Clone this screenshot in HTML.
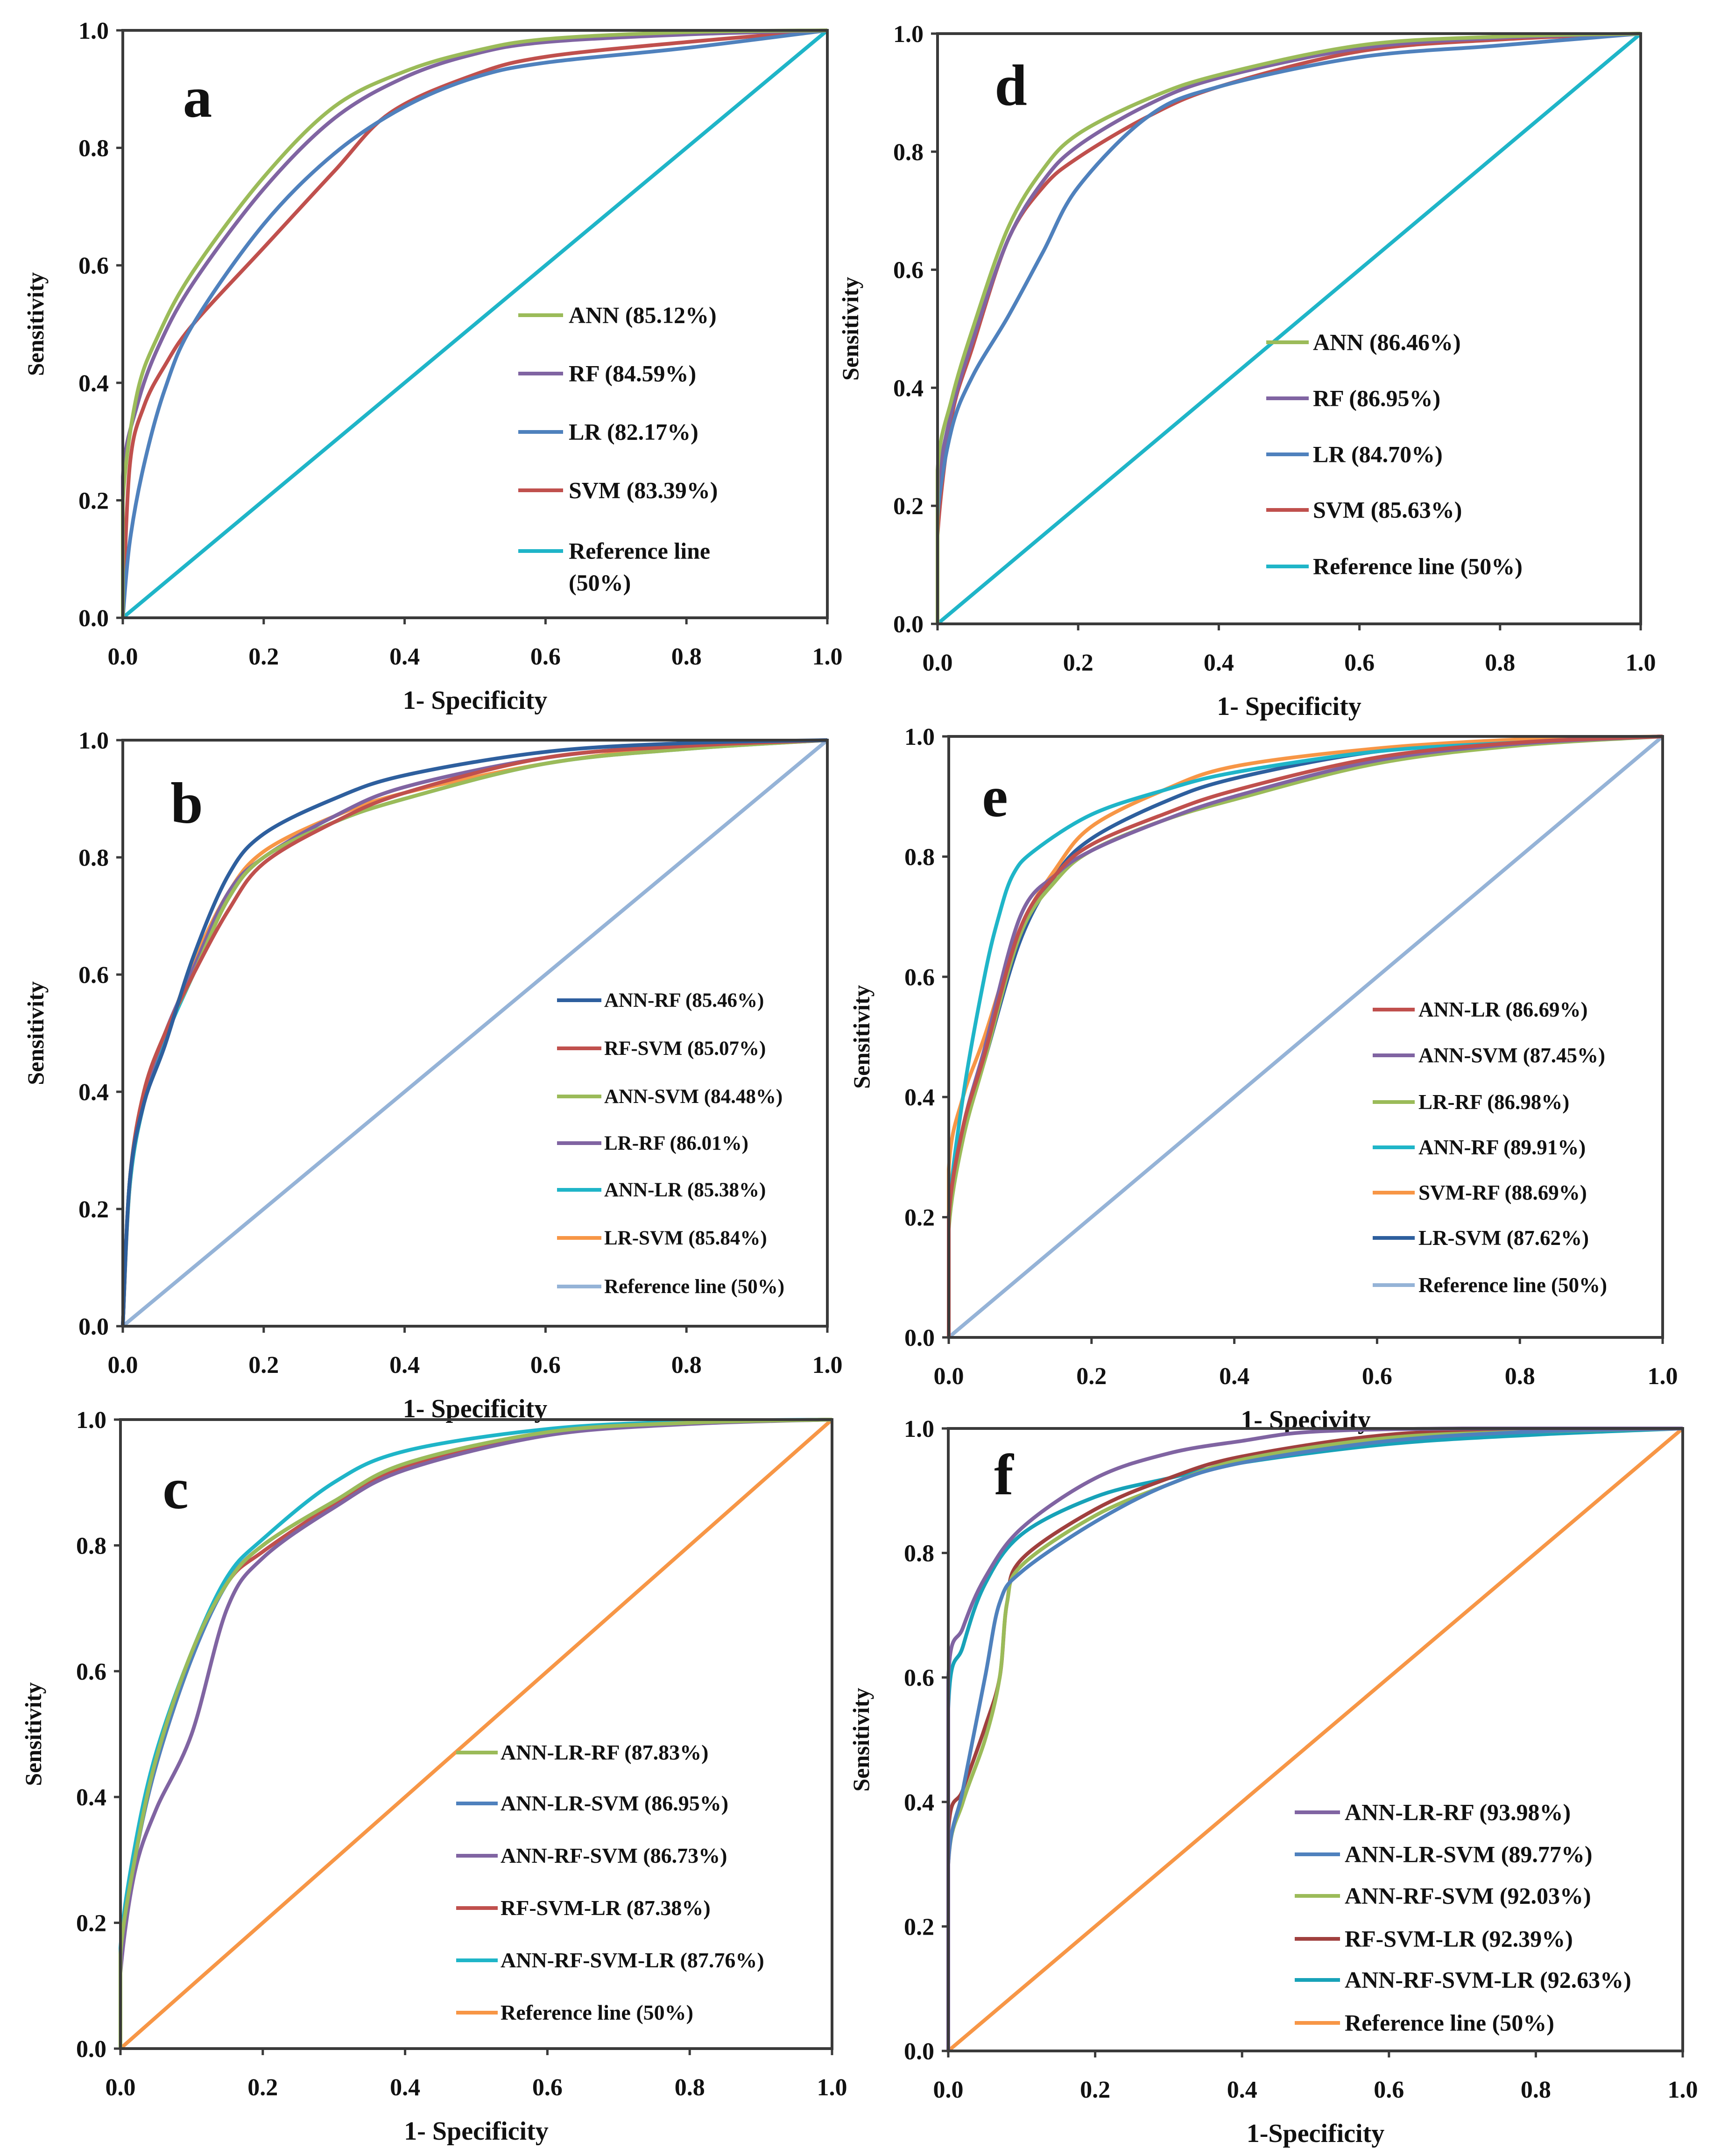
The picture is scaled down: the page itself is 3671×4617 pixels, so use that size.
<!DOCTYPE html>
<html><head><meta charset="utf-8"><style>
html,body{margin:0;padding:0;background:#fff}
svg{display:block}
text{font-family:"Liberation Serif",serif;font-weight:bold;fill:#111}
</style></head><body>
<svg id="fig" width="3671" height="4617" viewBox="0 0 3671 4617" xmlns="http://www.w3.org/2000/svg"></svg>
<script>
// ---- data ----
const ticks=[0,0.2,0.4,0.6,0.8,1.0];
const tickLabels=["0.0","0.2","0.4","0.6","0.8","1.0"];
const C={green:"#9bbb59",purple:"#8064a2",blue:"#4f81bd",red:"#c0504d",cyan:"#1fb5c8",orange:"#f79646",dblue:"#2e5f9e",lblue:"#95b3d7",dred:"#a0403e",teal:"#17a2b8"};
const REF=[[0,0],[1,1]];
// panel a
const aANN=[[0,0],[0,0.2],[0.02,0.38],[0.05,0.48],[0.1,0.59],[0.2,0.75],[0.3,0.87],[0.4,0.93],[0.5,0.965],[0.6,0.985],[0.8,0.997],[1,1]];
const aRF=[[0,0],[0,0.24],[0.02,0.36],[0.05,0.46],[0.1,0.57],[0.2,0.73],[0.3,0.85],[0.4,0.92],[0.5,0.96],[0.6,0.98],[0.8,0.993],[1,1]];
const aLR=[[0,0],[0.01,0.13],[0.03,0.26],[0.06,0.39],[0.1,0.5],[0.2,0.67],[0.3,0.79],[0.4,0.87],[0.5,0.92],[0.6,0.945],[0.8,0.97],[1,1]];
const aSVM=[[0,0],[0.01,0.26],[0.03,0.36],[0.06,0.43],[0.1,0.5],[0.2,0.63],[0.3,0.76],[0.38,0.86],[0.5,0.925],[0.6,0.955],[0.8,0.98],[1,1]];
// panel d
const dANN=[[0,0],[0,0.26],[0.02,0.38],[0.05,0.5],[0.1,0.67],[0.15,0.77],[0.2,0.83],[0.3,0.89],[0.4,0.93],[0.6,0.98],[0.8,0.995],[1,1]];
const dRF=[[0,0],[0,0.22],[0.02,0.36],[0.05,0.48],[0.1,0.65],[0.15,0.75],[0.2,0.81],[0.3,0.88],[0.4,0.925],[0.6,0.975],[0.8,0.993],[1,1]];
const dLR=[[0,0],[0,0.18],[0.02,0.33],[0.05,0.42],[0.1,0.52],[0.15,0.63],[0.2,0.74],[0.3,0.86],[0.4,0.91],[0.6,0.96],[0.8,0.98],[1,1]];
const dSVM=[[0,0],[0,0.15],[0.02,0.35],[0.05,0.47],[0.1,0.65],[0.15,0.74],[0.2,0.79],[0.3,0.86],[0.4,0.91],[0.6,0.97],[0.8,0.99],[1,1]];
// panel b
const bANNRF=[[0,0],[0.01,0.25],[0.03,0.38],[0.06,0.48],[0.1,0.63],[0.15,0.77],[0.2,0.84],[0.3,0.9],[0.4,0.94],[0.6,0.98],[0.8,0.995],[1,1]];
const bRFSVM=[[0,0],[0.01,0.25],[0.03,0.4],[0.06,0.5],[0.1,0.6],[0.15,0.71],[0.2,0.79],[0.3,0.86],[0.4,0.91],[0.6,0.97],[0.8,0.99],[1,1]];
const bANNSVM=[[0,0],[0.01,0.25],[0.03,0.4],[0.06,0.5],[0.1,0.6],[0.15,0.73],[0.2,0.8],[0.3,0.86],[0.4,0.9],[0.6,0.96],[0.8,0.985],[1,1]];
const bLRRF=[[0,0],[0.01,0.25],[0.03,0.39],[0.06,0.5],[0.1,0.61],[0.15,0.74],[0.2,0.8],[0.3,0.87],[0.4,0.92],[0.6,0.97],[0.8,0.992],[1,1]];
const bANNLR=[[0,0],[0.01,0.24],[0.03,0.38],[0.06,0.49],[0.1,0.6],[0.15,0.73],[0.2,0.8],[0.3,0.86],[0.4,0.9],[0.6,0.96],[0.8,0.985],[1,1]];
const bLRSVM=[[0,0],[0.01,0.24],[0.03,0.38],[0.06,0.49],[0.1,0.62],[0.15,0.74],[0.2,0.81],[0.3,0.87],[0.4,0.91],[0.6,0.96],[0.8,0.99],[1,1]];
// panel e
const eANNLR=[[0,0],[0,0.2],[0.02,0.35],[0.05,0.47],[0.1,0.68],[0.15,0.77],[0.2,0.82],[0.3,0.87],[0.4,0.91],[0.6,0.965],[0.8,0.99],[1,1]];
const eANNSVM=[[0,0],[0,0.2],[0.02,0.35],[0.05,0.48],[0.1,0.7],[0.15,0.77],[0.2,0.81],[0.3,0.86],[0.4,0.9],[0.6,0.96],[0.8,0.988],[1,1]];
const eLRRF=[[0,0],[0,0.18],[0.02,0.33],[0.05,0.46],[0.1,0.67],[0.15,0.76],[0.2,0.81],[0.3,0.86],[0.4,0.895],[0.6,0.955],[0.8,0.985],[1,1]];
const eANNRF=[[0,0],[0,0.2],[0.02,0.4],[0.05,0.6],[0.07,0.7],[0.09,0.77],[0.12,0.81],[0.2,0.87],[0.3,0.91],[0.4,0.94],[0.6,0.975],[0.8,0.99],[1,1]];
const eSVMRF=[[0,0],[0,0.28],[0.02,0.4],[0.05,0.5],[0.1,0.68],[0.15,0.78],[0.2,0.85],[0.3,0.91],[0.4,0.95],[0.6,0.98],[0.8,0.995],[1,1]];
const eLRSVM=[[0,0],[0,0.2],[0.02,0.34],[0.05,0.46],[0.1,0.66],[0.15,0.77],[0.2,0.83],[0.3,0.89],[0.4,0.93],[0.6,0.975],[0.8,0.99],[1,1]];
// panel c
const cANNLRRF=[[0,0],[0,0.15],[0.02,0.3],[0.05,0.46],[0.1,0.63],[0.15,0.74],[0.2,0.8],[0.3,0.87],[0.4,0.93],[0.6,0.98],[0.8,0.995],[1,1]];
const cANNLRSVM=[[0,0],[0,0.15],[0.02,0.3],[0.05,0.45],[0.1,0.62],[0.15,0.74],[0.2,0.8],[0.3,0.87],[0.4,0.93],[0.6,0.98],[0.8,0.995],[1,1]];
const cANNRFSVM=[[0,0],[0,0.12],[0.02,0.28],[0.05,0.38],[0.1,0.5],[0.15,0.7],[0.2,0.78],[0.3,0.86],[0.4,0.92],[0.6,0.975],[0.8,0.993],[1,1]];
const cRFSVMLR=[[0,0],[0,0.15],[0.02,0.3],[0.05,0.45],[0.1,0.62],[0.15,0.74],[0.2,0.79],[0.3,0.865],[0.4,0.925],[0.6,0.978],[0.8,0.995],[1,1]];
const cALL=[[0,0],[0,0.16],[0.02,0.32],[0.05,0.47],[0.1,0.63],[0.15,0.75],[0.2,0.81],[0.3,0.9],[0.4,0.95],[0.6,0.985],[0.8,0.997],[1,1]];
// panel f
const fANNLRRF=[[0,0],[0,0.6],[0.02,0.68],[0.05,0.76],[0.1,0.84],[0.2,0.92],[0.3,0.96],[0.4,0.98],[0.5,0.995],[0.7,1],[1,1]];
const fANNLRSVM=[[0,0],[0,0.3],[0.02,0.42],[0.05,0.6],[0.07,0.72],[0.1,0.77],[0.2,0.85],[0.3,0.91],[0.4,0.945],[0.6,0.98],[0.8,0.995],[1,1]];
const fANNRFSVM=[[0,0],[0,0.3],[0.02,0.4],[0.05,0.5],[0.07,0.6],[0.08,0.72],[0.1,0.78],[0.2,0.86],[0.3,0.91],[0.4,0.95],[0.6,0.985],[0.8,0.995],[1,1]];
const fRFSVMLR=[[0,0],[0,0.35],[0.02,0.42],[0.05,0.52],[0.07,0.6],[0.08,0.72],[0.1,0.79],[0.2,0.87],[0.3,0.92],[0.4,0.955],[0.6,0.99],[0.8,0.998],[1,1]];
const fALL=[[0,0],[0,0.55],[0.02,0.65],[0.05,0.75],[0.1,0.83],[0.2,0.89],[0.3,0.92],[0.4,0.945],[0.6,0.975],[0.8,0.99],[1,1]];

const panels=[
 {id:"a",x0:263,x1:1772,y0:65,y1:1323,xt:"1- Specificity",letter:[423,250],leg:{lx:1110,lx2:1206,tx:1218,fs:50,rows:[675,800,925,1050,1180]},
  series:[["ANN (85.12%)",aANN,C.green],["RF (84.59%)",aRF,C.purple],["LR (82.17%)",aLR,C.blue],["SVM (83.39%)",aSVM,C.red],["Reference line",REF,C.cyan,"(50%)"]]},
 {id:"d",x0:2008,x1:3514,y0:72,y1:1336,xt:"1- Specificity",letter:[2165,225],leg:{lx:2712,lx2:2803,tx:2812,fs:50,rows:[733,853,973,1092,1213]},
  series:[["ANN (86.46%)",dANN,C.green],["RF (86.95%)",dRF,C.purple],["LR (84.70%)",dLR,C.blue],["SVM (85.63%)",dSVM,C.red],["Reference line (50%)",REF,C.cyan]]},
 {id:"b",x0:263,x1:1772,y0:1585,y1:2840,xt:"1- Specificity",letter:[400,1762],leg:{lx:1193,lx2:1288,tx:1294,fs:43,rows:[2142,2245,2348,2448,2548,2651,2755]},
  series:[["ANN-RF (85.46%)",bANNRF,C.dblue],["RF-SVM (85.07%)",bRFSVM,C.red],["ANN-SVM (84.48%)",bANNSVM,C.green],["LR-RF (86.01%)",bLRRF,C.purple],["ANN-LR (85.38%)",bANNLR,C.cyan],["LR-SVM (85.84%)",bLRSVM,C.orange],["Reference line (50%)",REF,C.lblue]]},
 {id:"e",x0:2032,x1:3561,y0:1577,y1:2864,xt:"1- Specivity",letter:[2131,1748],leg:{lx:2940,lx2:3030,tx:3038,fs:45,rows:[2162,2260,2360,2457,2554,2651,2752]},
  series:[["ANN-LR (86.69%)",eANNLR,C.red],["ANN-SVM (87.45%)",eANNSVM,C.purple],["LR-RF (86.98%)",eLRRF,C.green],["ANN-RF (89.91%)",eANNRF,C.cyan],["SVM-RF (88.69%)",eSVMRF,C.orange],["LR-SVM (87.62%)",eLRSVM,C.dblue],["Reference line (50%)",REF,C.lblue]]},
 {id:"c",x0:258,x1:1782,y0:3040,y1:4387,xt:"1- Specificity",letter:[376,3230],leg:{lx:977,lx2:1066,tx:1072,fs:46,rows:[3753,3862,3974,4086,4198,4310]},
  series:[["ANN-LR-RF (87.83%)",cANNLRRF,C.green],["ANN-LR-SVM (86.95%)",cANNLRSVM,C.blue],["ANN-RF-SVM (86.73%)",cANNRFSVM,C.purple],["RF-SVM-LR (87.38%)",cRFSVMLR,C.red],["ANN-RF-SVM-LR (87.76%)",cALL,C.cyan],["Reference line (50%)",REF,C.orange]]},
 {id:"f",x0:2031,x1:3604,y0:3059,y1:4392,xt:"1-Specificity",letter:[2150,3200],leg:{lx:2773,lx2:2870,tx:2880,fs:50,rows:[3881,3971,4060,4152,4240,4332]},
  series:[["ANN-LR-RF (93.98%)",fANNLRRF,C.purple],["ANN-LR-SVM (89.77%)",fANNLRSVM,C.blue],["ANN-RF-SVM (92.03%)",fANNRFSVM,C.green],["RF-SVM-LR (92.39%)",fRFSVMLR,C.dred],["ANN-RF-SVM-LR (92.63%)",fALL,C.teal],["Reference line (50%)",REF,C.orange]]}
];

const NS="http://www.w3.org/2000/svg";
const svg=document.getElementById("fig");
function mk(tag,attrs,parent){const e=document.createElementNS(NS,tag);for(const k in attrs)e.setAttribute(k,attrs[k]);(parent||svg).appendChild(e);return e;}
function clamp(v,a,b){const lo=Math.min(a,b),hi=Math.max(a,b);return Math.max(lo,Math.min(hi,v));}
function pathFrom(pts){
  if(pts.length===2)return `M${pts[0][0]},${pts[0][1]}L${pts[1][0]},${pts[1][1]}`;
  let d=`M${pts[0][0]},${pts[0][1]}`;
  for(let i=0;i<pts.length-1;i++){
    const p0=pts[Math.max(i-1,0)],p1=pts[i],p2=pts[i+1],p3=pts[Math.min(i+2,pts.length-1)];
    const t=0.5/3;
    let c1x=clamp(p1[0]+(p2[0]-p0[0])*t,p1[0],p2[0]),c1y=clamp(p1[1]+(p2[1]-p0[1])*t,p1[1],p2[1]);
    let c2x=clamp(p2[0]-(p3[0]-p1[0])*t,p1[0],p2[0]),c2y=clamp(p2[1]-(p3[1]-p1[1])*t,p1[1],p2[1]);
    d+=`C${c1x},${c1y} ${c2x},${c2y} ${p2[0]},${p2[1]}`;
  }
  return d;
}
panels.forEach(P=>{
  const xs=v=>P.x0+v*(P.x1-P.x0), ys=v=>P.y1-v*(P.y1-P.y0);
  const g=mk("g",{});
  
  
  P.series.slice().reverse().forEach(s=>{
    const pts=s[1].map(p=>[xs(p[0]),ys(p[1])]);
    const pe=mk("path",{d:pathFrom(pts),fill:"none",stroke:s[2],"stroke-width":8,"stroke-linejoin":"round"},g);
    
    
  });
  const fr=mk("rect",{x:P.x0,y:P.y0,width:P.x1-P.x0,height:P.y1-P.y0,fill:"none",stroke:"#3a3a3a","stroke-width":6},g);
  
  
  ticks.forEach((t,i)=>{
    mk("line",{x1:xs(t),x2:xs(t),y1:P.y1,y2:P.y1+14,stroke:"#3a3a3a","stroke-width":5},g);
    mk("line",{x1:P.x0-14,x2:P.x0,y1:ys(t),y2:ys(t),stroke:"#3a3a3a","stroke-width":5},g);
    const xl=mk("text",{x:xs(t),y:P.y1+100,"font-size":52,"text-anchor":"middle"},g);
    xl.textContent=tickLabels[i];
    
    
    const yl=mk("text",{x:P.x0-30,y:ys(t)+18,"font-size":52,"text-anchor":"end"},g);
    yl.textContent=tickLabels[i];
    
    
  });
  const xt=mk("text",{x:(P.x0+P.x1)/2,y:P.y1+195,"font-size":56,"text-anchor":"middle"},g);
  xt.textContent=P.xt;
  
  
  const cy=(P.y0+P.y1)/2, cx=P.x0-170;
  const yt=mk("text",{x:cx,y:cy,"font-size":50,"text-anchor":"middle",transform:`rotate(-90 ${cx} ${cy})`},g);
  yt.textContent="Sensitivity";
  
  
  const lt=mk("text",{x:P.letter[0],y:P.letter[1],"font-size":125,"text-anchor":"middle"},g);
  lt.textContent=P.id;
  
  
  const L=P.leg;
  P.series.forEach((s,i)=>{
    const y=L.rows[i];
    const ln=mk("line",{x1:L.lx,x2:L.lx2,y1:y,y2:y,stroke:s[2],"stroke-width":8},g);
    
    
    const tx=mk("text",{x:L.tx,y:y+L.fs*0.33,"font-size":L.fs},g);
    tx.textContent=s[0];
    
    
    if(s[3]){
      const t2=mk("text",{x:L.tx,y:y+L.fs*0.33+68,"font-size":L.fs},g);
      t2.textContent=s[3];
      
      
    }
  });
});
</script>
</body></html>
